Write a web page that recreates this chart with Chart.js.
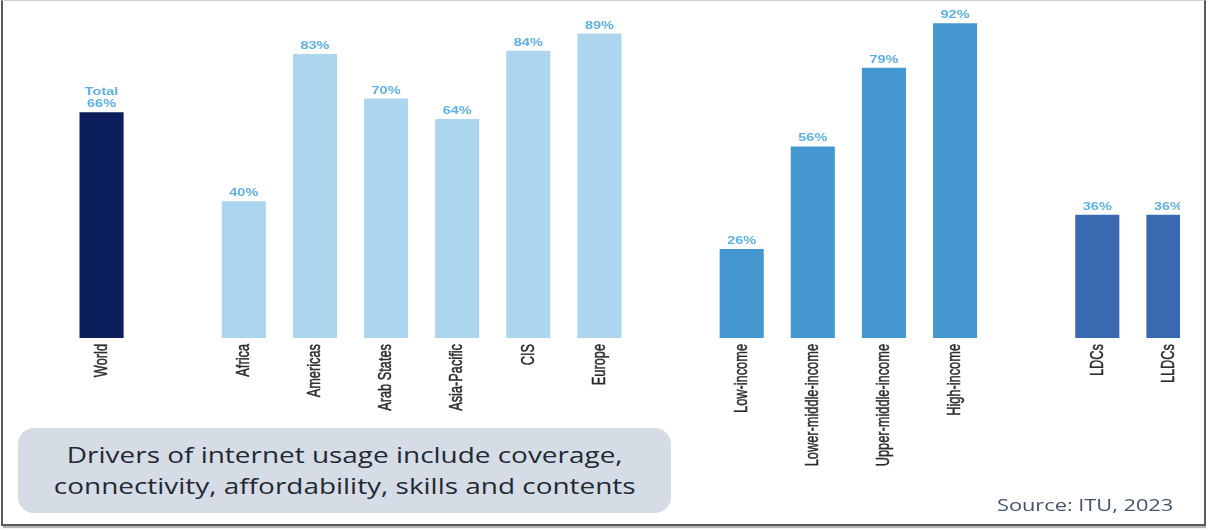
<!DOCTYPE html>
<html>
<head>
<meta charset="utf-8">
<script src="https://cdn.jsdelivr.net/npm/chart.js@4"></script>
<style>
  html, body { margin: 0; padding: 0; background: #fff; }
  body { width: 1206px; height: 529px; position: relative; overflow: hidden; }
  .frame {
    position: absolute; left: 1px; top: 0; width: 1201px; height: 523px;
    border-top: 1px solid #d0d0d0;
    border-left: 2px solid #5a5a5a;
    border-right: 2px solid #5a5a5a;
    border-bottom: 2px solid #5a5a5a;
    box-shadow: 2px 2px 1px #b5b5b5;
  }
  .plot { position: absolute; left: 0; top: 0; width: 1180px; height: 529px; overflow: hidden; }
  .note {
    position: absolute; left: 18px; top: 428px; width: 653px; height: 85px;
    border-radius: 16px; background: #d6dce5;
    display: flex; align-items: center; justify-content: center; text-align: center;
    font-family: "Open Sans", sans-serif; font-size: 21px; line-height: 31px; color: #222a35;
  }
  .note div { transform: scaleX(1.33); white-space: nowrap; }
  .source {
    position: absolute; left: 997px; top: 494px; transform: scaleX(1.36); transform-origin: left center;
    font-family: "Open Sans", sans-serif; font-size: 16px; color: #44546a; white-space: nowrap;
  }
</style>
</head>
<body>
<div class="frame"></div>
<div class="plot"><canvas id="usageChart" width="1206" height="529"></canvas></div>
<div class="note"><div>Drivers of internet usage include coverage,<br>connectivity, affordability, skills and contents</div></div>
<div class="source">Source: ITU, 2023</div>
<script>
// empty slots separate the groups
const categories = ['World', '', 'Africa', 'Americas', 'Arab States', 'Asia-Pacific', 'CIS', 'Europe', '',
  'Low-income', 'Lower-middle-income', 'Upper-middle-income', 'High-income', '', 'LDCs', 'LLDCs'];
const usage = [66, null, 40, 83, 70, 64, 84, 89, null, 26, 56, 79, 92, null, 36, 36];
const groups = ['world', null, 'region', 'region', 'region', 'region', 'region', 'region', null,
  'income', 'income', 'income', 'income', null, 'dev', 'dev'];
const valueNotes = ['Total', '', '', '', '', '', '', '', '', '', '', '', '', '', '', ''];

const groupColors = { world: '#0c1e5b', region: '#acd6ee', income: '#4597d0', dev: '#3a6bb0' };

// labels are drawn a bit wide, like the original slide
const valueStretch = 1.38;
const nameStretch = 1.5;

const barLabels = {
  id: 'barLabels',
  afterDatasetsDraw(chart) {
    const ctx = chart.ctx;
    const meta = chart.getDatasetMeta(0);
    const base = chart.scales.y.getPixelForValue(0);
    meta.data.forEach((bar, i) => {
      if (usage[i] == null) return;
      ctx.save();
      ctx.translate(bar.x, bar.y - 5);
      ctx.scale(valueStretch, 1);
      ctx.font = 'bold 10.5px "Liberation Sans", Arial, sans-serif';
      ctx.fillStyle = '#5db1e6';
      ctx.textAlign = 'center';
      ctx.textBaseline = 'alphabetic';
      ctx.fillText(usage[i] + '%', 0, 0);
      if (valueNotes[i]) ctx.fillText(valueNotes[i], 0, -12);
      ctx.restore();

      // category name, rotated, reading upwards from under the bar
      ctx.save();
      ctx.translate(bar.x, base + 6);
      ctx.scale(nameStretch, 1);
      ctx.rotate(-Math.PI / 2);
      ctx.font = '12.8px "Liberation Sans", Arial, sans-serif';
      ctx.fillStyle = '#2e2e2e';
      ctx.strokeStyle = '#2e2e2e';
      ctx.lineWidth = 0.35;
      ctx.textAlign = 'right';
      ctx.textBaseline = 'middle';
      ctx.fillText(categories[i], 0, 0);
      ctx.strokeText(categories[i], 0, 0);
      ctx.restore();
    });
  }
};

new Chart(document.getElementById('usageChart'), {
  type: 'bar',
  data: {
    labels: categories,
    datasets: [{
      data: usage,
      backgroundColor: groups.map(g => groupColors[g] || 'transparent'),
      borderWidth: 0,
      barPercentage: 0.62,
      categoryPercentage: 1
    }]
  },
  options: {
    responsive: false,
    animation: false,
    layout: { padding: { left: 66, right: 2, top: 13, bottom: 191 } },
    plugins: { legend: { display: false }, tooltip: { enabled: false } },
    scales: {
      x: { display: false },
      y: { display: false, min: 0, max: 95 }
    }
  },
  plugins: [barLabels]
});
</script>
</body>
</html>
